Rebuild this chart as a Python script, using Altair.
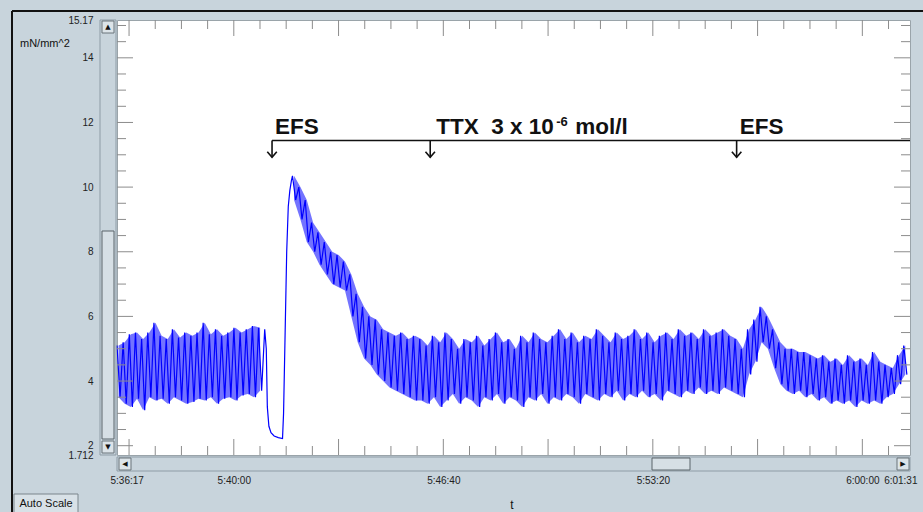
import altair as alt
import pandas as pd

# ---------------- data ----------------
start_clock = "5:36:17"
end_clock = "6:01:31"
x_label_clocks = ["5:36:17", "5:40:00", "5:46:40", "5:53:20", "6:00:00", "6:01:31"]
y_domain = [1.712, 15.17]
y_label_values = [1.712, 2, 4, 6, 8, 10, 12, 14, 15.17]
y_unit = "mN/mm^2"
x_title = "t"

# seconds after 5:36:17 ; peaks (hi) and troughs (lo) of each contraction cycle
segA_span = [0, 282]
segA_hi = [5.1, 5.2, 5.45, 5.5, 5.3, 5.5, 5.8, 5.4, 5.3, 5.6, 5.35, 5.5,
           5.4, 5.5, 5.8, 5.45, 5.6, 5.4, 5.5, 5.65, 5.5, 5.6, 5.7, 5.65]
segA_lo = [3.5, 3.3, 3.2, 3.45, 3.1, 3.5, 3.4, 3.45, 3.3, 3.5, 3.4, 3.3,
           3.35, 3.45, 3.4, 3.5, 3.3, 3.45, 3.5, 3.4, 3.55, 3.6, 3.5, 3.7]
# relaxation then EFS contraction
trans_t = [282, 285, 287, 290, 294, 300, 308, 316, 318, 321, 324, 327, 330, 333]
trans_v = [5.6, 5.0, 3.2, 2.6, 2.4, 2.3, 2.25, 2.22, 3.0, 5.5, 8.0, 9.4, 9.9, 10.2]
# decay of the first EFS response
segB_span = [335, 578]
segB_hi = [10.35, 10.0, 9.6, 8.9, 8.6, 8.3, 8.0, 7.9, 7.7, 7.3,
           6.7, 6.3, 6.0, 5.9, 5.6, 5.5, 5.4, 5.5, 5.3, 5.4]
segB_lo = [9.6, 9.0, 8.3, 8.0, 7.6, 7.3, 7.0, 6.9, 6.8, 6.0,
           5.2, 4.7, 4.5, 4.2, 4.0, 3.8, 3.7, 3.6, 3.5, 3.4]
# under TTX
segC_span = [578, 1180]
segC_hi = [5.3, 5.1, 5.4, 5.2, 5.5, 5.3, 5.0, 5.3, 5.2, 5.4,
           5.1, 5.3, 5.5, 5.2, 5.3, 5.0, 5.4, 5.2, 5.5, 5.3,
           5.2, 5.4, 5.6, 5.3, 5.5, 5.2, 5.4, 5.3, 5.6, 5.4,
           5.2, 5.5, 5.3, 5.4, 5.6, 5.3, 5.5, 5.2, 5.4, 5.5,
           5.3, 5.6, 5.4, 5.5, 5.3, 5.6, 5.4, 5.5, 5.6, 5.4]
segC_lo = [3.4, 3.3, 3.5, 3.2, 3.4, 3.6, 3.3, 3.5, 3.4, 3.2,
           3.5, 3.4, 3.6, 3.3, 3.5, 3.4, 3.2, 3.5, 3.4, 3.6,
           3.3, 3.5, 3.4, 3.6, 3.5, 3.3, 3.6, 3.5, 3.4, 3.6,
           3.5, 3.7, 3.4, 3.6, 3.5, 3.7, 3.5, 3.6, 3.4, 3.7,
           3.6, 3.5, 3.7, 3.6, 3.8, 3.6, 3.7, 3.6, 3.8, 3.7]
# second EFS
segD_span = [1180, 1514]
segD_hi = [5.3, 5.0, 5.6, 5.9, 6.3, 6.0, 5.6, 5.2, 5.0, 5.0, 4.9, 4.9, 4.8, 4.7,
           4.8, 4.6, 4.7, 4.5, 4.8, 4.6, 4.7, 4.5, 4.9, 4.6, 4.5, 4.4, 4.8, 5.1]
segD_lo = [3.6, 3.5, 4.2, 4.6, 5.2, 5.0, 4.4, 3.9, 3.7, 3.6, 3.7, 3.5, 3.6, 3.4,
           3.5, 3.3, 3.4, 3.3, 3.4, 3.2, 3.4, 3.3, 3.4, 3.3, 3.5, 3.6, 3.9, 4.2]

event_clocks = ["5:41:13", "5:46:15", "5:56:00"]
event_labels = ["EFS", "TTX\u00a0\u00a03 x 10", "EFS"]
ttx_sup = "-6"
ttx_tail = "mol/l"
bar_level = 11.44
arrow_tip = 10.92

# ---------------- helpers ----------------
def secs(clock):
    h, m, s = map(int, clock.split(":"))
    return h * 3600 + m * 60 + s

T0 = secs(start_clock)
T_END = secs(end_clock) - T0

# group: A = before the first EFS, R = continuous recording after the contraction
segments = [("A", segA_span, segA_hi, segA_lo), ("R", segB_span, segB_hi, segB_lo),
            ("R", segC_span, segC_hi, segC_lo), ("R", segD_span, segD_hi, segD_lo)]

pts, band = list(zip(trans_t, trans_v)), []
for grp, (a, b), hi, lo in segments:
    p = (b - a) / len(hi)
    for i, (h, l) in enumerate(zip(hi, lo)):
        pts.append((a + i * p, h))
        pts.append((a + i * p + p / 2, l))
        band.append((grp, a + i * p + p / 4, l, h))
pts.sort()
trace = pd.DataFrame(pts, columns=["t", "v"])
trace["o"] = range(len(trace))
band = pd.DataFrame(band, columns=["seg", "t", "v", "v2"]).sort_values("t")

W, H = 793, 435
PL, PT = 117, 20
BG = "#c8d4dc"
FONT = "Liberation Sans"
BLUE = "#0000ff"

xs = alt.Scale(domain=[0, T_END], nice=False, zero=False)
ys = alt.Scale(domain=y_domain, nice=False, zero=False)

x_tick_secs = [secs(c) - T0 for c in x_label_clocks]
expr = "''"
for s_, lab in reversed(list(zip(x_tick_secs, x_label_clocks))):
    expr = f"datum.value == {s_} ? '{lab}' : " + expr

line = alt.Chart(trace).mark_line(color=BLUE, strokeWidth=1.2).encode(
    x=alt.X("t:Q", scale=xs, axis=alt.Axis(values=x_tick_secs, labelExpr=expr, ticks=False,
             domain=False, grid=False, labelPadding=20, labelFontSize=10, labelFont=FONT,
             labelColor="#222", labelOverlap=False, labelFlush=True, labelFlushOffset=7,
             title=None)),
    y=alt.Y("v:Q", scale=ys, axis=alt.Axis(values=y_label_values, format=".4~g", ticks=False,
             domain=False, grid=False, labelPadding=24, labelFontSize=10, labelFont=FONT,
             labelColor="#222", labelOverlap=False, title=None)),
    order="o:Q",
)
area = alt.Chart(band).mark_area(color=BLUE, opacity=0.55).encode(
    x=alt.X("t:Q", scale=xs), y=alt.Y("v:Q", scale=ys), y2="v2:Q", detail="seg:N")

# inside ticks
y_ticks = pd.DataFrame({"v": [k / 2 for k in range(4, 31)]})
y_ticks["major"] = [(k % 4 == 0) for k in range(4, 31)]
x_ticks = pd.DataFrame({"t": [23 + 50 * k for k in range(30) if 23 + 50 * k < T_END]})
x_ticks["major"] = [(k % 4 == 0) for k in range(len(x_ticks))]
TC = "#8c8c8c"
tick_layers = []
for maj, ln in [(True, 16), (False, 9)]:
    yd = y_ticks[y_ticks.major == maj]
    xd = x_ticks[x_ticks.major == maj]
    tick_layers.append(alt.Chart(yd).mark_rule(color=TC).encode(
        y=alt.Y("v:Q", scale=ys), x=alt.value(0), x2=alt.value(ln)))
    tick_layers.append(alt.Chart(yd).mark_rule(color=TC).encode(
        y=alt.Y("v:Q", scale=ys), x=alt.value(W), x2=alt.value(W - ln)))
    tick_layers.append(alt.Chart(xd).mark_rule(color=TC).encode(
        x=alt.X("t:Q", scale=xs), y=alt.value(H), y2=alt.value(H - ln)))
    tick_layers.append(alt.Chart(xd).mark_rule(color=TC).encode(
        x=alt.X("t:Q", scale=xs), y=alt.value(0), y2=alt.value(ln)))

# annotations
ev = pd.DataFrame({"t": [secs(c) - T0 for c in event_clocks], "label": event_labels})
ev["v"] = bar_level
ev["v2"] = arrow_tip
bar = alt.Chart(pd.DataFrame({"t": [ev.t.iloc[0]], "t2": [T_END], "v": [bar_level]})).mark_rule(
    color="#111", strokeWidth=1.6).encode(x=alt.X("t:Q", scale=xs), x2="t2:Q", y=alt.Y("v:Q", scale=ys))
stems = alt.Chart(ev).mark_rule(color="#111", strokeWidth=1.6).encode(
    x=alt.X("t:Q", scale=xs), y=alt.Y("v:Q", scale=ys), y2="v2:Q")
heads = alt.Chart(ev).mark_point(shape="M-1,-1.2L0,0L1,-1.2", filled=False, size=90,
                                 color="#111", strokeWidth=1.6, opacity=1).encode(
    x=alt.X("t:Q", scale=xs), y=alt.Y("v2:Q", scale=ys))
txt = dict(baseline="alphabetic", font=FONT, fontWeight="bold", color="#111", align="left")
efs = ev.iloc[[0, 2]]
ttx = ev.iloc[[1]]
efs_labels = alt.Chart(efs).mark_text(dx=3, dy=-7, fontSize=22.5, **txt).encode(
    x=alt.X("t:Q", scale=xs), y=alt.Y("v:Q", scale=ys), text="label:N")
ttx_label = alt.Chart(ttx).mark_text(dx=6, dy=-7, fontSize=22.5, **txt).encode(
    x=alt.X("t:Q", scale=xs), y=alt.Y("v:Q", scale=ys), text="label:N")
sup = alt.Chart(ttx).mark_text(dx=126, dy=-15, fontSize=13, text=ttx_sup, **txt).encode(
    x=alt.X("t:Q", scale=xs), y=alt.Y("v:Q", scale=ys))
tail = alt.Chart(ttx).mark_text(dx=145, dy=-7, fontSize=22.5, text=ttx_tail, **txt).encode(
    x=alt.X("t:Q", scale=xs), y=alt.Y("v:Q", scale=ys))

# ---------------- window chrome (pixel positions) ----------------
one = pd.DataFrame({"a": [0]})
chrome = []
rects = [
    (100, 116, 20, 455, BG, "#8e9ca6"),
    (102, 114, 21, 33, "#dce4e9", "#6a747a"),
    (102, 114, 231, 439, "#d6dfe5", "#5a646a"),
    (102, 114, 441, 453, "#dce4e9", "#6a747a"),
    (117, 910, 457, 471, BG, "#8e9ca6"),
    (119, 131, 458, 470, "#dce4e9", "#6a747a"),
    (652, 690, 458, 470, "#d6dfe5", "#5a646a"),
    (897, 909, 458, 470, "#dce4e9", "#6a747a"),
    (14, 78, 494, 513, "#d8e1e7", "#7a858c"),
]
for x1, x2, y1, y2, f, s in rects:
    chrome.append(alt.Chart(one).mark_rect(fill=f, stroke=s, strokeWidth=1).encode(
        x=alt.value(x1 - PL), x2=alt.value(x2 - PL), y=alt.value(y1 - PT), y2=alt.value(y2 - PT)))
for x1, x2, y1, y2 in [(12, 923, 11, 11), (12, 12, 11, 512)]:
    chrome.append(alt.Chart(one).mark_rule(color="#111", strokeWidth=2).encode(
        x=alt.value(x1 - PL), x2=alt.value(x2 - PL), y=alt.value(y1 - PT), y2=alt.value(y2 - PT)))
for gx, gy, g in [(108, 27, "▲"), (108, 447, "▼"), (125, 464, "◀"), (903, 464, "▶")]:
    chrome.append(alt.Chart(one).mark_text(text=g, font="DejaVu Sans", fontSize=7, color="#111").encode(
        x=alt.value(gx - PL), y=alt.value(gy - PT)))
for tx, ty, t_, al, fs in [(20, 44, y_unit, "left", 11), (512, 505, x_title, "center", 12),
                           (46, 504, "Auto Scale", "center", 11)]:
    chrome.append(alt.Chart(one).mark_text(text=t_, font=FONT, fontSize=fs, align=al, color="#111").encode(
        x=alt.value(tx - PL), y=alt.value(ty - PT)))

chart = alt.layer(area, line, *tick_layers, bar, stems, heads, efs_labels, ttx_label, sup, tail,
                  *chrome).properties(
    width=W, height=H,
    autosize=alt.AutoSizeParams(type="none"),
    padding={"left": PL, "top": PT, "right": 923 - PL - W, "bottom": 512 - PT - H},
    background=BG,
).configure_view(fill="white", stroke="#9aa4aa", strokeWidth=1)

chart.save("out.html", embed_options={"renderer": "svg", "actions": False})
